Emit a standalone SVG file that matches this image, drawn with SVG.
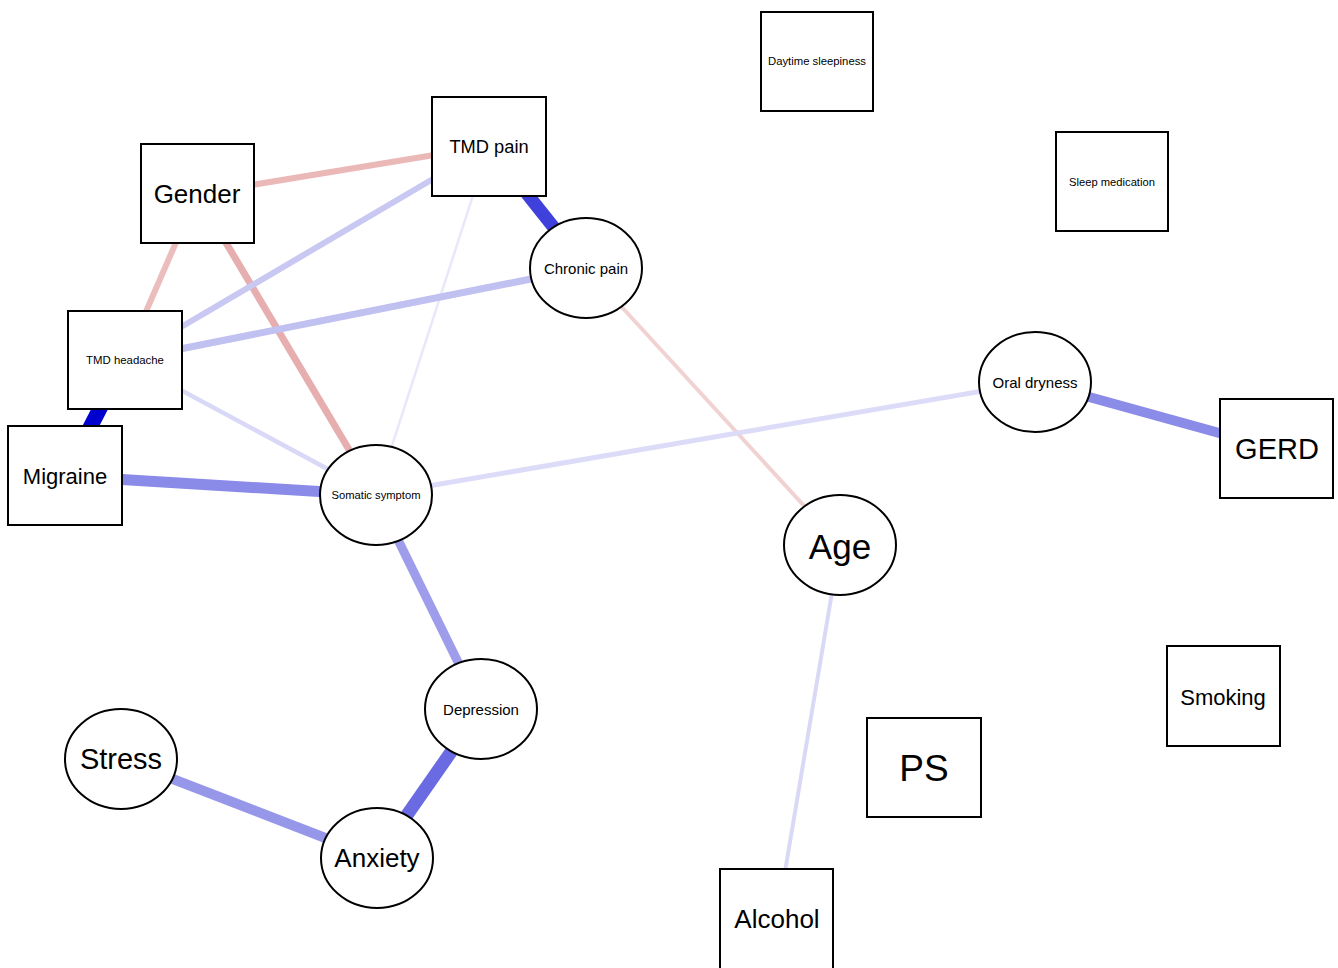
<svg xmlns="http://www.w3.org/2000/svg" width="1338" height="968" viewBox="0 0 1338 968">
<style>
.n rect,.n ellipse{fill:#fff;stroke:#000;stroke-width:2}
.n text{font-family:"Liberation Sans",Arial,sans-serif;text-anchor:middle;dominant-baseline:central;fill:#000}
#edges line{stroke-linecap:butt}
</style>
<rect width="1338" height="968" fill="#fff"/>
<g id="edges">
<line x1="197" y1="194" x2="489" y2="146" stroke="#ebb8b8" stroke-width="6"/>
<line x1="197" y1="194" x2="125" y2="360" stroke="#ecbdbd" stroke-width="6"/>
<line x1="197" y1="194" x2="376" y2="495" stroke="#e6aeae" stroke-width="7"/>
<line x1="489" y1="146" x2="125" y2="360" stroke="#c8c8f3" stroke-width="6"/>
<line x1="489" y1="146" x2="586" y2="268" stroke="#4040dc" stroke-width="13"/>
<line x1="489" y1="146" x2="376" y2="495" stroke="#e8e8fb" stroke-width="2.5"/>
<line x1="586" y1="268" x2="125" y2="360" stroke="#c0c0f1" stroke-width="7"/>
<line x1="586" y1="268" x2="840" y2="545" stroke="#f1d2d2" stroke-width="4"/>
<line x1="125" y1="360" x2="65" y2="476" stroke="#0000cf" stroke-width="15"/>
<line x1="125" y1="360" x2="376" y2="495" stroke="#d9d9f7" stroke-width="4.5"/>
<line x1="65" y1="476" x2="376" y2="495" stroke="#8a8ae8" stroke-width="11"/>
<line x1="376" y1="495" x2="1035" y2="382" stroke="#dcdcf8" stroke-width="5"/>
<line x1="376" y1="495" x2="481" y2="709" stroke="#9d9deb" stroke-width="9"/>
<line x1="481" y1="709" x2="377" y2="858" stroke="#6a6ae2" stroke-width="13"/>
<line x1="121" y1="759" x2="377" y2="858" stroke="#9797ea" stroke-width="10"/>
<line x1="1035" y1="382" x2="1277" y2="449" stroke="#8b8be8" stroke-width="10"/>
<line x1="840" y1="545" x2="777" y2="919" stroke="#d9d9f7" stroke-width="4"/>
</g>
<g id="daytime-sleepiness" class="n"><rect x="761" y="12" width="112" height="99"/><text x="817" y="61" font-size="11.3">Daytime sleepiness</text></g>
<g id="sleep-medication" class="n"><rect x="1056" y="132" width="112" height="99"/><text x="1112" y="182" font-size="11.2">Sleep medication</text></g>
<g id="tmd-pain" class="n"><rect x="432" y="97" width="114" height="99"/><text x="489" y="146" font-size="18.3">TMD pain</text></g>
<g id="gender" class="n"><rect x="141" y="144" width="113" height="99"/><text x="197" y="194" font-size="26">Gender</text></g>
<g id="chronic-pain" class="n"><ellipse cx="586" cy="268" rx="56" ry="50"/><text x="586" y="268" font-size="15">Chronic pain</text></g>
<g id="tmd-headache" class="n"><rect x="68" y="311" width="114" height="98"/><text x="125" y="360" font-size="11.4">TMD headache</text></g>
<g id="migraine" class="n"><rect x="8" y="426" width="114" height="99"/><text x="65" y="476" font-size="22">Migraine</text></g>
<g id="somatic-symptom" class="n"><ellipse cx="376" cy="495" rx="56" ry="50"/><text x="376" y="495" font-size="11.2">Somatic symptom</text></g>
<g id="oral-dryness" class="n"><ellipse cx="1035" cy="382" rx="56" ry="50"/><text x="1035" y="382" font-size="15">Oral dryness</text></g>
<g id="gerd" class="n"><rect x="1220" y="399" width="113" height="99"/><text x="1277" y="449" font-size="29">GERD</text></g>
<g id="age" class="n"><ellipse cx="840" cy="545" rx="56" ry="50"/><text x="840" y="546" font-size="35">Age</text></g>
<g id="depression" class="n"><ellipse cx="481" cy="709" rx="56" ry="50"/><text x="481" y="709" font-size="15">Depression</text></g>
<g id="smoking" class="n"><rect x="1167" y="646" width="113" height="100"/><text x="1223" y="697" font-size="22">Smoking</text></g>
<g id="ps" class="n"><rect x="867" y="718" width="114" height="99"/><text x="924" y="768" font-size="37">PS</text></g>
<g id="stress" class="n"><ellipse cx="121" cy="759" rx="56" ry="50"/><text x="121" y="759" font-size="29">Stress</text></g>
<g id="anxiety" class="n"><ellipse cx="377" cy="858" rx="56" ry="50"/><text x="377" y="858" font-size="26">Anxiety</text></g>
<g id="alcohol" class="n"><rect x="720" y="869" width="113" height="100"/><text x="777" y="919" font-size="26">Alcohol</text></g>
</svg>
